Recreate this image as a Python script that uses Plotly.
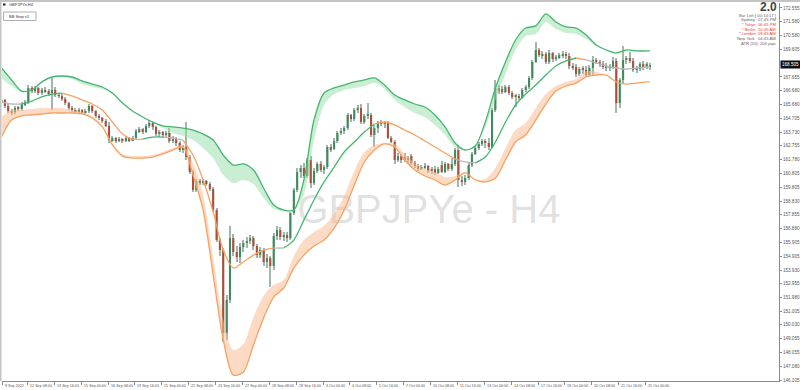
import plotly.graph_objects as go

# ---------------- candle data (GBPJPYe, H4) ----------------
OPEN = [
    165.80, 166.02, 165.59, 165.23, 165.16, 165.45, 165.38, 165.73, 165.87, 166.87,
    166.65, 166.87, 166.51, 166.73, 166.65, 166.51, 166.73, 166.37, 166.30, 166.09,
    165.80, 165.45, 165.30, 165.23, 165.30, 165.16, 165.23, 165.59, 165.23, 164.88,
    164.74, 164.52, 164.17, 163.17, 163.31, 163.10, 163.24, 163.10, 163.31, 163.17,
    163.31, 163.81, 163.95, 163.74, 164.17, 164.38, 164.10, 163.60, 163.74, 163.53,
    163.67, 163.10, 163.24, 162.96, 162.46, 162.67, 161.96, 160.90, 159.62, 160.26,
    160.11, 160.26, 160.04, 159.69, 158.19, 156.06, 155.35, 149.45, 151.80, 156.20,
    155.21, 154.85, 155.56, 155.85, 155.99, 156.20, 155.63, 154.99, 155.35, 154.50,
    154.78, 154.21, 156.35, 156.77, 156.27, 156.42, 156.20, 157.98, 159.62, 160.90,
    161.18, 160.61, 161.75, 160.11, 160.97, 161.47, 161.04, 161.25, 162.67, 162.53,
    163.10, 163.67, 163.81, 164.02, 164.95, 164.66, 165.30, 165.45, 164.45, 164.88,
    164.95, 163.53, 164.02, 164.38, 164.31, 164.38, 163.31, 163.03, 161.75, 162.03,
    161.96, 161.75, 162.03, 161.54, 161.32, 161.11, 161.25, 161.32, 160.97, 161.11,
    160.83, 161.39, 160.90, 161.47, 161.11, 161.47, 162.46, 160.33, 160.19, 160.47,
    161.39, 162.18, 162.60, 162.89, 163.10, 162.96, 162.67, 165.30, 166.87, 166.80,
    166.58, 166.94, 166.51, 166.23, 166.30, 166.16, 166.73, 166.94, 167.58, 168.72,
    169.57, 169.21, 169.29, 168.72, 169.36, 168.93, 169.07, 169.21, 169.29, 169.14,
    168.43, 168.36, 167.86, 168.22, 168.15, 167.79, 168.29, 168.86, 168.72, 168.58,
    168.36, 168.43, 168.29, 168.79, 165.80, 167.44, 168.86, 169.00, 168.79, 168.15,
    168.22, 168.58, 168.36, 168.43,
]
HIGH = [
    166.23, 166.09, 165.73, 165.38, 165.59, 165.59, 165.87, 166.02, 167.08, 167.01,
    167.01, 166.94, 166.87, 166.94, 166.80, 167.58, 166.94, 166.51, 166.44, 166.23,
    165.87, 165.59, 165.45, 165.45, 165.38, 165.38, 165.73, 165.66, 165.30, 165.02,
    164.81, 164.66, 164.45, 163.46, 163.38, 163.38, 163.31, 163.46, 163.38, 163.46,
    163.95, 164.10, 164.02, 164.31, 164.59, 164.45, 164.17, 163.88, 163.81, 163.81,
    164.02, 163.46, 163.38, 163.10, 162.82, 164.45, 162.10, 161.04, 160.40, 160.40,
    160.40, 160.33, 160.19, 159.83, 158.34, 156.20, 155.49, 152.15, 157.06, 156.49,
    155.63, 155.85, 156.06, 156.27, 156.42, 156.35, 155.78, 155.56, 155.49, 155.07,
    154.92, 156.56, 157.06, 156.99, 156.63, 156.63, 158.05, 159.76, 161.18, 161.39,
    161.54, 161.89, 162.03, 161.18, 161.61, 161.68, 161.39, 162.82, 162.89, 163.31,
    163.81, 164.02, 164.17, 165.09, 165.02, 165.45, 165.66, 165.73, 165.02, 165.80,
    165.09, 164.24, 164.52, 164.59, 164.52, 164.52, 163.46, 163.17, 162.25, 162.18,
    162.25, 162.03, 162.18, 161.68, 161.47, 161.39, 161.54, 161.39, 161.25, 161.32,
    161.25, 161.68, 161.61, 161.54, 161.89, 162.60, 162.82, 160.61, 160.68, 161.54,
    162.32, 162.74, 163.03, 163.24, 163.24, 163.31, 165.45, 167.44, 167.08, 167.01,
    167.08, 167.08, 166.65, 166.44, 166.44, 166.87, 167.08, 167.72, 168.86, 170.14,
    169.71, 169.50, 169.43, 169.57, 169.43, 169.21, 169.36, 169.50, 169.43, 169.36,
    168.65, 168.58, 168.36, 168.43, 168.43, 168.50, 169.14, 169.00, 168.86, 168.79,
    168.65, 168.58, 169.07, 169.00, 167.58, 169.85, 169.14, 169.43, 169.00, 168.43,
    168.72, 168.79, 168.72, 168.65,
]
LOW = [
    165.66, 165.45, 165.09, 164.95, 165.02, 165.23, 165.23, 165.59, 165.73, 166.51,
    166.51, 166.37, 166.37, 166.51, 166.30, 165.30, 166.23, 166.16, 165.94, 165.66,
    165.30, 165.16, 165.09, 165.09, 165.02, 165.02, 165.09, 165.09, 164.74, 164.59,
    164.38, 164.10, 162.96, 163.03, 162.96, 163.03, 162.96, 163.03, 163.03, 163.10,
    163.24, 163.67, 163.60, 163.67, 164.02, 163.88, 163.46, 163.38, 163.31, 163.38,
    162.96, 162.96, 162.74, 162.32, 162.25, 161.75, 160.75, 159.47, 159.47, 159.97,
    159.97, 159.90, 159.55, 158.05, 155.92, 154.92, 148.81, 148.95, 151.58, 154.92,
    154.50, 154.43, 155.21, 155.49, 155.78, 155.35, 154.78, 154.78, 154.21, 154.07,
    152.72, 153.93, 156.06, 156.06, 155.99, 155.92, 156.06, 157.84, 159.47, 160.47,
    160.47, 160.47, 159.76, 159.97, 160.83, 160.90, 160.75, 161.11, 162.32, 162.46,
    162.96, 163.53, 163.60, 163.88, 164.45, 164.52, 165.09, 164.31, 164.31, 164.66,
    163.38, 162.67, 163.67, 164.17, 164.02, 163.24, 162.96, 161.47, 161.61, 161.54,
    161.61, 161.54, 161.39, 161.18, 160.97, 161.04, 161.11, 160.83, 160.75, 160.68,
    160.75, 160.83, 160.83, 160.97, 160.97, 161.32, 159.83, 159.90, 159.97, 160.33,
    161.25, 162.10, 162.46, 162.74, 162.60, 162.46, 162.60, 165.16, 166.44, 166.44,
    166.51, 166.37, 166.09, 165.52, 166.02, 166.09, 166.58, 166.80, 167.44, 168.65,
    169.07, 168.93, 168.58, 168.58, 168.72, 168.79, 168.93, 169.00, 168.93, 168.22,
    168.15, 167.65, 167.72, 167.86, 167.65, 167.72, 167.72, 168.58, 168.36, 168.22,
    168.08, 168.08, 168.22, 165.09, 165.45, 167.15, 168.58, 168.65, 168.01, 167.94,
    168.08, 168.15, 168.22, 168.15,
]
CLOSE = [
    166.02, 165.59, 165.23, 165.16, 165.45, 165.38, 165.73, 165.87, 166.87, 166.65,
    166.87, 166.51, 166.73, 166.65, 166.51, 166.73, 166.37, 166.30, 166.09, 165.80,
    165.45, 165.30, 165.23, 165.30, 165.16, 165.23, 165.59, 165.23, 164.88, 164.74,
    164.52, 164.17, 163.17, 163.31, 163.10, 163.24, 163.10, 163.31, 163.17, 163.31,
    163.81, 163.95, 163.74, 164.17, 164.38, 164.10, 163.60, 163.74, 163.53, 163.67,
    163.10, 163.24, 162.96, 162.46, 162.67, 161.96, 160.90, 159.62, 160.26, 160.11,
    160.26, 160.04, 159.69, 158.19, 156.06, 155.35, 149.45, 151.80, 156.20, 155.21,
    154.85, 155.56, 155.85, 155.99, 156.20, 155.63, 154.99, 155.35, 154.50, 154.78,
    154.21, 156.35, 156.77, 156.27, 156.42, 156.20, 157.98, 159.62, 160.90, 161.18,
    160.61, 161.75, 160.11, 160.97, 161.47, 161.04, 161.25, 162.67, 162.53, 163.10,
    163.67, 163.81, 164.02, 164.95, 164.66, 165.30, 165.45, 164.45, 164.88, 164.95,
    163.53, 164.02, 164.38, 164.31, 164.38, 163.31, 163.03, 161.75, 162.03, 161.75,
    161.75, 161.89, 161.54, 161.32, 161.11, 161.25, 161.32, 160.97, 161.11, 160.83,
    161.11, 160.90, 161.47, 161.11, 161.47, 162.46, 160.33, 160.19, 160.47, 161.39,
    162.18, 162.60, 162.89, 163.10, 162.96, 162.67, 165.30, 166.87, 166.65, 166.58,
    166.94, 166.51, 166.23, 166.30, 166.16, 166.73, 166.94, 167.58, 168.72, 169.57,
    169.21, 169.29, 168.72, 169.36, 168.93, 169.07, 169.21, 169.29, 169.14, 168.43,
    168.36, 167.86, 168.22, 168.15, 167.79, 168.29, 168.86, 168.72, 168.58, 168.36,
    168.43, 168.29, 168.79, 165.80, 167.44, 168.86, 169.00, 168.79, 168.15, 168.22,
    168.58, 168.36, 168.58, 168.505,
]
LAST_PRICE = 168.505

# ---------------- indicator lines (sampled every 3 bars + last bar) ----------------
UPPER = [
    168.29, 167.44, 166.65, 166.73, 167.30, 167.65, 167.72, 167.65, 167.37, 167.15,
    166.94, 166.51, 165.80, 165.23, 164.81, 164.45, 164.17, 164.10, 164.02, 163.88,
    163.60, 163.17, 162.10, 161.39, 161.47, 161.04, 159.76, 158.55, 158.19, 158.19,
    160.33, 164.59, 166.51, 166.87, 167.08, 167.30, 167.44, 167.58, 167.08, 166.37,
    166.02, 165.73, 165.52, 164.95, 164.10, 162.96, 162.46, 162.74, 164.45, 166.87,
    168.72, 170.28, 171.13, 171.28, 172.13, 171.56, 171.21, 171.13, 170.64, 169.93,
    169.57, 169.36, 169.57, 169.50, 169.50, 169.50,
]
UPPER_INNER = [
    167.58, 167.01, 166.58, 166.73, 167.30, 167.65, 167.65, 167.51, 167.15, 166.94,
    166.80, 166.44, 165.80, 165.23, 164.81, 164.45, 164.02, 163.67, 163.46, 163.17,
    162.60, 161.89, 160.68, 160.11, 160.33, 160.04, 159.05, 158.27, 158.12, 158.19,
    159.26, 163.17, 165.66, 166.44, 166.73, 166.87, 167.01, 167.22, 166.80, 166.02,
    165.52, 165.09, 164.81, 164.24, 163.53, 162.67, 162.46, 162.74, 164.10, 166.02,
    167.86, 169.57, 170.57, 170.71, 171.56, 171.06, 170.78, 170.71, 170.35, 169.85,
    169.57, 169.36, 169.57, 169.50, 169.50, 169.50,
]
MIDDLE = [
    165.87, 165.73, 165.73, 165.94, 166.23, 166.44, 166.51, 166.30, 166.02, 165.73,
    165.30, 164.45, 163.60, 163.24, 163.24, 163.38, 163.38, 163.31, 163.17, 162.10,
    160.33, 158.05, 155.35, 154.07, 154.50, 154.99, 155.35, 155.49, 155.49, 156.06,
    157.48, 158.91, 160.19, 161.25, 162.32, 163.03, 163.74, 164.31, 164.45, 164.24,
    163.88, 163.53, 163.10, 162.67, 162.25, 161.82, 161.61, 161.54, 161.96, 163.03,
    164.45, 165.66, 166.44, 167.08, 167.79, 168.43, 168.79, 169.00, 168.86, 168.65,
    168.43, 168.29, 168.22, 168.29, 168.36, 168.36,
]
# trend state of the middle line: u = rising (green), d = falling (orange), f = flat (gray)
MIDDLE_STATE = ("d" + "ff" + "uuuu" + "dddddddd" + "uu" + "ff" + "ddddddddd" + "f"
                + "uuuuuuuuu" + "dddddddd" + "ff" + "uuuuuuuuuu" + "d" + "fffffff")
LOWER = [
    163.38, 164.59, 164.88, 164.95, 165.02, 165.09, 165.09, 165.09, 165.02, 164.74,
    164.10, 162.82, 162.03, 161.89, 161.89, 161.96, 162.18, 162.46, 162.67, 160.68,
    158.19, 153.57, 148.95, 146.46, 146.68, 148.60, 150.52, 152.01, 152.65, 154.07,
    154.99, 155.63, 156.06, 156.91, 158.19, 159.97, 161.61, 162.46, 162.89, 162.67,
    161.75, 161.04, 160.61, 160.33, 159.97, 160.33, 160.83, 160.33, 160.19, 160.47,
    161.75, 163.03, 163.53, 164.59, 165.73, 166.65, 167.01, 167.22, 167.65, 167.79,
    167.79, 167.30, 167.15, 167.22, 167.30, 167.30,
]
LOWER_INNER = [
    164.81, 165.30, 165.30, 165.38, 165.45, 165.45, 165.45, 165.30, 165.16, 164.88,
    164.24, 162.96, 162.18, 162.03, 162.03, 162.10, 162.32, 162.60, 162.82, 161.54,
    159.26, 154.85, 150.37, 148.24, 148.67, 150.59, 152.08, 152.86, 153.22, 154.92,
    156.06, 156.63, 157.06, 157.91, 159.19, 160.97, 162.32, 162.82, 162.96, 162.89,
    162.18, 161.54, 161.11, 160.90, 160.54, 160.61, 160.90, 160.33, 160.40, 161.18,
    162.60, 163.88, 164.38, 165.45, 166.44, 167.01, 167.30, 167.51, 168.08, 168.01,
    167.79, 167.30, 167.15, 167.22, 167.30, 167.30,
]

# ---------------- axis labels ----------------
X_LABELS = ["9 Sep 2022", "12 Sep 08:00", "13 Sep 16:00", "15 Sep 00:00", "16 Sep 08:00",
            "19 Sep 16:00", "21 Sep 00:00", "22 Sep 08:00", "23 Sep 16:00", "27 Sep 00:00",
            "28 Sep 08:00", "29 Sep 16:00", "3 Oct 00:00", "4 Oct 08:00", "5 Oct 16:00",
            "7 Oct 00:00", "10 Oct 08:00", "11 Oct 16:00", "13 Oct 00:00", "14 Oct 08:00",
            "17 Oct 16:00", "19 Oct 00:00", "20 Oct 08:00", "21 Oct 16:00", "25 Oct 00:00"]
Y_TICKS = [172.555, 171.580, 170.580, 169.605, 167.655, 166.680, 165.680, 164.705,
           163.730, 162.755, 161.780, 160.805, 159.805, 158.830, 157.855, 156.880,
           155.905, 154.905, 153.930, 152.955, 151.980, 151.005, 150.030, 149.055,
           148.055, 147.080, 146.105]
INFO_LABELS = ["Bar Left :", "Sydney", "* Tokyo", "* Berlin", "* London", "New York"]
INFO_VALUES = ["[ 00:14:17 ]", "07:45 PM", "06:45 PM", "10:45 AM", "09:45 AM", "04:45 AM"]
INFO_RED = [False, False, True, True, True, False]
ATR_TEXT = "ATR (20): 206 pips"
SPREAD_TEXT = "2.0"
SYMBOL_TEXT = "GBPJPYe,H4"
BUTTON_TEXT = "BB Stop v1"
WATERMARK = "GBPJPYe - H4"

# ---------------- styling ----------------
BULL = "#3f8b5d"
BEAR = "#b04d3a"
WICK = "#a3b6ab"
GREEN = "#45b66f"
GREEN_FILL = "rgba(150,222,168,0.50)"
ORANGE = "#f5a262"
ORANGE_FILL = "rgba(250,188,148,0.55)"
GRAY = "#b8b8b8"
STATE_COLOR = {"u": GREEN, "d": ORANGE, "f": GRAY}
FONT = "Liberation Sans"

W, H = 800, 390
ML, MR, MT, MB = 2, 21, 3, 9
PW, PH = W - ML - MR, H - MT - MB
BAR_PX0, BAR_PX = 1.5, 3.36   # pixel position of bar 0 and spacing per bar
X0 = (ML - BAR_PX0) / BAR_PX
X1 = (W - MR - BAR_PX0) / BAR_PX


def px2x(px):
    return (px - ML) / PW


def py2y(py):
    return 1 - (py - MT) / PH


def bar2paper(b):
    return (b - X0) / (X1 - X0)


n = len(CLOSE)
idx = list(range(n))
LX = list(range(0, n - 1, 3)) + [n - 1]

fig = go.Figure()

# watermark (drawn first, behind lines)
fig.add_trace(go.Scatter(x=[127.2], y=[158.0], mode="text", text=[WATERMARK],
                         textfont=dict(size=40, color="rgba(120,120,120,0.24)", family=FONT),
                         hoverinfo="skip", showlegend=False))

# candles: wicks + bodies as bars
fig.add_trace(go.Bar(x=idx, y=[h - l for h, l in zip(HIGH, LOW)], base=LOW, width=0.32,
                     marker=dict(color=WICK, line=dict(width=0)), hoverinfo="skip", showlegend=False))
bull = [i for i in idx if CLOSE[i] >= OPEN[i]]
bear = [i for i in idx if CLOSE[i] < OPEN[i]]
for sel, col in ((bull, BULL), (bear, BEAR)):
    fig.add_trace(go.Bar(x=sel,
                         y=[max(abs(CLOSE[i] - OPEN[i]), 0.04) for i in sel],
                         base=[min(OPEN[i], CLOSE[i]) for i in sel],
                         width=0.62, marker=dict(color=col, line=dict(width=0)),
                         hoverinfo="skip", showlegend=False))

# upper band with fill
fig.add_trace(go.Scatter(x=LX, y=UPPER_INNER, mode="lines",
                         line=dict(width=0, color=GREEN, shape="spline", smoothing=0.8),
                         hoverinfo="skip", showlegend=False))
fig.add_trace(go.Scatter(x=LX, y=UPPER, mode="lines", fill="tonexty", fillcolor=GREEN_FILL,
                         line=dict(width=1.3, color=GREEN, shape="spline", smoothing=0.8),
                         hoverinfo="skip", showlegend=False))
# lower band with fill
fig.add_trace(go.Scatter(x=LX, y=LOWER_INNER, mode="lines",
                         line=dict(width=0, color=ORANGE, shape="spline", smoothing=0.8),
                         hoverinfo="skip", showlegend=False))
fig.add_trace(go.Scatter(x=LX, y=LOWER, mode="lines", fill="tonexty", fillcolor=ORANGE_FILL,
                         line=dict(width=1.3, color=ORANGE, shape="spline", smoothing=0.8),
                         hoverinfo="skip", showlegend=False))

# middle line coloured by state
runs = []
start = 0
for k in range(1, len(MIDDLE_STATE) + 1):
    if k == len(MIDDLE_STATE) or MIDDLE_STATE[k] != MIDDLE_STATE[start]:
        runs.append((start, k - 1, MIDDLE_STATE[start]))
        start = k
for a, b, s in runs:
    a0 = max(a - 1, 0)
    fig.add_trace(go.Scatter(x=LX[a0:b + 1], y=MIDDLE[a0:b + 1], mode="lines",
                             line=dict(width=1.3, color=STATE_COLOR[s], shape="spline", smoothing=0.8),
                             hoverinfo="skip", showlegend=False))

tick_pos = [max(8 * k - 0.3, X0 + 0.05) for k in range(len(X_LABELS))]

fig.update_layout(
    width=W, height=H, margin=dict(l=ML, r=MR, t=MT, b=MB, autoexpand=False),
    paper_bgcolor="white", plot_bgcolor="white", barmode="overlay", showlegend=False,
    xaxis=dict(range=[X0, X1], showgrid=False, zeroline=False,
               showline=True, linecolor="#8a8a8a", linewidth=1, ticks="outside", ticklen=3,
               tickcolor="#8a8a8a", tickvals=tick_pos, ticktext=[""] * len(tick_pos),
               fixedrange=True),
    yaxis=dict(range=[146.04, 172.91], side="right", showgrid=False, zeroline=False,
               showline=True, linecolor="#8a8a8a", linewidth=1, ticks="outside", ticklen=2,
               tickcolor="#8a8a8a", tickvals=Y_TICKS, ticktext=[f"{v:.3f}" for v in Y_TICKS],
               tickfont=dict(size=4.6, color="#555", family=FONT), fixedrange=True),
)

ann = []
for pos, lab in zip(tick_pos, X_LABELS):
    ann.append(dict(x=bar2paper(pos), y=0, xref="paper", yref="paper", text=lab, showarrow=False,
                    xanchor="left", yanchor="top", xshift=0.5, yshift=-1,
                    font=dict(size=3.7, color="#555", family=FONT)))
# last price box
ann.append(dict(x=1, y=LAST_PRICE, xref="paper", yref="y", text=f"{LAST_PRICE:.3f}",
                showarrow=False, xanchor="left", yanchor="middle", xshift=1,
                bgcolor="#111", borderpad=1, font=dict(size=4.6, color="white", family=FONT)))
# spread
ann.append(dict(x=px2x(779), y=py2y(7), xref="paper", yref="paper", text=f"<b>{SPREAD_TEXT}</b>",
                showarrow=False, xanchor="right", yanchor="middle",
                font=dict(size=12, color="#444", family=FONT)))
rows_y = [15, 19.7, 24.3, 29, 33.7, 38.3]
for ry, lab, val, red in zip(rows_y, INFO_LABELS, INFO_VALUES, INFO_RED):
    col = "#e8403a" if red else "#666"
    ann.append(dict(x=px2x(758), y=py2y(ry), xref="paper", yref="paper", text=lab, showarrow=False,
                    xanchor="right", yanchor="middle", font=dict(size=4.2, color=col, family=FONT)))
    ann.append(dict(x=px2x(778), y=py2y(ry), xref="paper", yref="paper", text=val, showarrow=False,
                    xanchor="right", yanchor="middle", font=dict(size=4.2, color=col, family=FONT)))
ann.append(dict(x=px2x(778), y=py2y(43), xref="paper", yref="paper", text=ATR_TEXT, showarrow=False,
                xanchor="right", yanchor="middle", font=dict(size=4.2, color="#666", family=FONT)))
# symbol caption + button
ann.append(dict(x=px2x(7), y=py2y(4.5), xref="paper", yref="paper", text=SYMBOL_TEXT, showarrow=False,
                xanchor="left", yanchor="middle", font=dict(size=4, color="#333", family=FONT)))
ann.append(dict(x=px2x(19.5), y=py2y(16), xref="paper", yref="paper", text=BUTTON_TEXT, showarrow=False,
                xanchor="center", yanchor="middle", font=dict(size=4, color="#333", family=FONT)))
fig.update_layout(annotations=ann)

shapes = [
    # window frame strips
    dict(type="rect", xref="paper", yref="paper", x0=px2x(0), x1=px2x(W), y0=py2y(2), y1=py2y(0),
         fillcolor="#c4c4c4", line=dict(width=0), layer="above"),
    dict(type="rect", xref="paper", yref="paper", x0=px2x(0), x1=px2x(1.5), y0=py2y(381), y1=py2y(0),
         fillcolor="#c4c4c4", line=dict(width=0), layer="above"),
    # symbol icon
    dict(type="rect", xref="paper", yref="paper", x0=px2x(3), x1=px2x(5.5), y0=py2y(5.5), y1=py2y(3.5),
         fillcolor="#222", line=dict(width=0), layer="above"),
    # button
    dict(type="rect", xref="paper", yref="paper", x0=px2x(3.5), x1=px2x(36), y0=py2y(20.5), y1=py2y(12),
         fillcolor="white", line=dict(width=0.8, color="#9a9a9a"), layer="above"),
]
fig.update_layout(shapes=shapes)

fig.write_html("out.html")
